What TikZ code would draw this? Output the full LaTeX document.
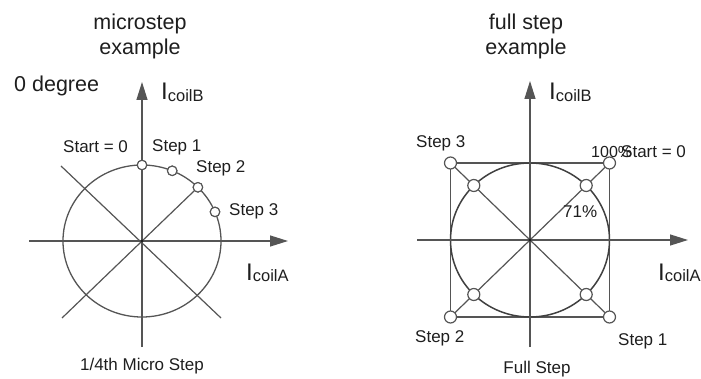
\documentclass[tikz,border=0pt]{standalone}
\usepackage{fontspec}
\setmainfont{Liberation Sans}
\usetikzlibrary{arrows.meta}
\definecolor{linegray}{HTML}{555555}
\definecolor{inkgray}{HTML}{1E1E1E}
\newcommand{\curr}[1]{{\fontsize{24}{24}\selectfont I}\raisebox{-1.5pt}{\fontsize{16.5}{16.5}\selectfont coil#1}}
\tikzset{
  axisline/.style={draw=linegray, line width=1.3pt, -{Triangle[length=18pt,width=11pt]}},
  thin/.style={draw=linegray, line width=1.2pt},
  ring/.style={draw=inkgray!85, line width=1.5pt},
  smallmark/.style={circle, draw=linegray, fill=white, line width=1.1pt, minimum size=9.5pt, inner sep=0pt},
  bigmark/.style={circle, draw=linegray, fill=white, line width=1.2pt, minimum size=12pt, inner sep=0pt},
  lbl/.style={inner sep=0pt, anchor=base west, text=inkgray, font=\fontsize{17}{17}\selectfont},
  title/.style={inner sep=0pt, anchor=base, text=inkgray, font=\fontsize{21.5}{21.5}\selectfont},
  axlbl/.style={inner sep=0pt, anchor=base west, text=inkgray},
}
\begin{document}
\begin{tikzpicture}[x=1pt,y=-1pt]
\useasboundingbox (0,0) rectangle (701,379);

% ---------- microstep diagram ----------
\coordinate (L) at (142,241);
\node[title] (t1a) at (140,30) {microstep};
\node[title] (t1b) at (140,55) {example};
\node[inner sep=0pt, anchor=base west, text=inkgray, font=\fontsize{21.5}{21.5}\selectfont] (deg) at (14,92) {0 degree};

% circle and diagonals
\draw[thin, line width=1.3pt] (L) ellipse [x radius=79, y radius=76];
\coordinate (Lll) at (62,318);
\coordinate (Lul) at (61,166);
\coordinate (Llr) at (221,318);
\node[smallmark] (m0) at (142,165) {};
\node[smallmark] (m1) at (172.2,170.8) {};
\node[smallmark] (m2) at (197.9,187.3) {};
\node[smallmark] (m3) at (215,211.9) {};
\draw[thin] (Lll) -- (m2);
\draw[thin] (Lul) -- (Llr);

% axes
\coordinate (Lxa) at (29,241);
\coordinate (Lxb) at (288,241);
\coordinate (Lya) at (142,347);
\coordinate (Lyb) at (142,82);
\draw[axisline] (Lxa) -- (Lxb);
\draw[axisline] (Lya) -- (Lyb);
\fill[inkgray] (L) circle (1.6pt);

% markers drawn again on top of the lines
\foreach \p in {(142,165), (172.2,170.8), (197.9,187.3), (215,211.9)}
  \node[smallmark] at \p {};

% labels
\node[axlbl] (icb1) at (161,100) {\curr{B}};
\node[axlbl] (ica1) at (246,280) {\curr{A}};
\node[lbl] (st0) at (63,153) {Start = 0};
\node[lbl] (s1) at (152,152) {Step 1};
\node[lbl] (s2) at (196,173) {Step 2};
\node[lbl] (s3) at (229,216) {Step 3};
\node[lbl, anchor=base] (cap1) at (142,370) {1/4th Micro Step};

% ---------- full step diagram ----------
\coordinate (R) at (530,240);
\node[title] (t2a) at (526,30) {full step};
\node[title] (t2b) at (526,55) {example};

\draw[thin] (450.5,163) rectangle (609.5,317);
\draw[ring] (R) ellipse [x radius=79.5, y radius=77];
\coordinate (Rul) at (450.5,163);
\coordinate (Rur) at (609.5,163);
\coordinate (Rll) at (450.5,317);
\coordinate (Rlr) at (609.5,317);
\draw[thin] (Rul) -- (Rlr);
\draw[thin] (Rur) -- (Rll);

\coordinate (Rxa) at (417,240);
\coordinate (Rxb) at (688,240);
\coordinate (Rya) at (530,347);
\coordinate (Ryb) at (530,81);
\draw[axisline] (Rxa) -- (Rxb);
\draw[axisline] (Rya) -- (Ryb);
\fill[inkgray] (R) circle (1.6pt);

\node[bigmark] (c1) at (Rul) {};
\node[bigmark] (c2) at (Rur) {};
\node[bigmark] (c3) at (Rll) {};
\node[bigmark] (c4) at (Rlr) {};
\node[bigmark] (n1) at (473.8,185.5) {};
\node[bigmark] (n2) at (586.2,185.5) {};
\node[bigmark] (n3) at (473.8,294.5) {};
\node[bigmark] (n4) at (586.2,294.5) {};

\node[axlbl] (icb2) at (549,100) {\curr{B}};
\node[axlbl] (ica2) at (658,280) {\curr{A}};
\node[lbl] (fs3) at (416,148) {Step 3};
\node[lbl, font=\fontsize{16}{16}\selectfont] (p100) at (591,158) {100\%};
\node[lbl] (st0b) at (621,158) {Start = 0};
\node[lbl] (p71) at (563,218) {71\%};
\node[lbl] (fs2) at (415,342) {Step 2};
\node[lbl] (fs1) at (618,345) {Step 1};
\node[lbl, anchor=base] (cap2) at (537,373) {Full Step};
\end{tikzpicture}
\end{document}
